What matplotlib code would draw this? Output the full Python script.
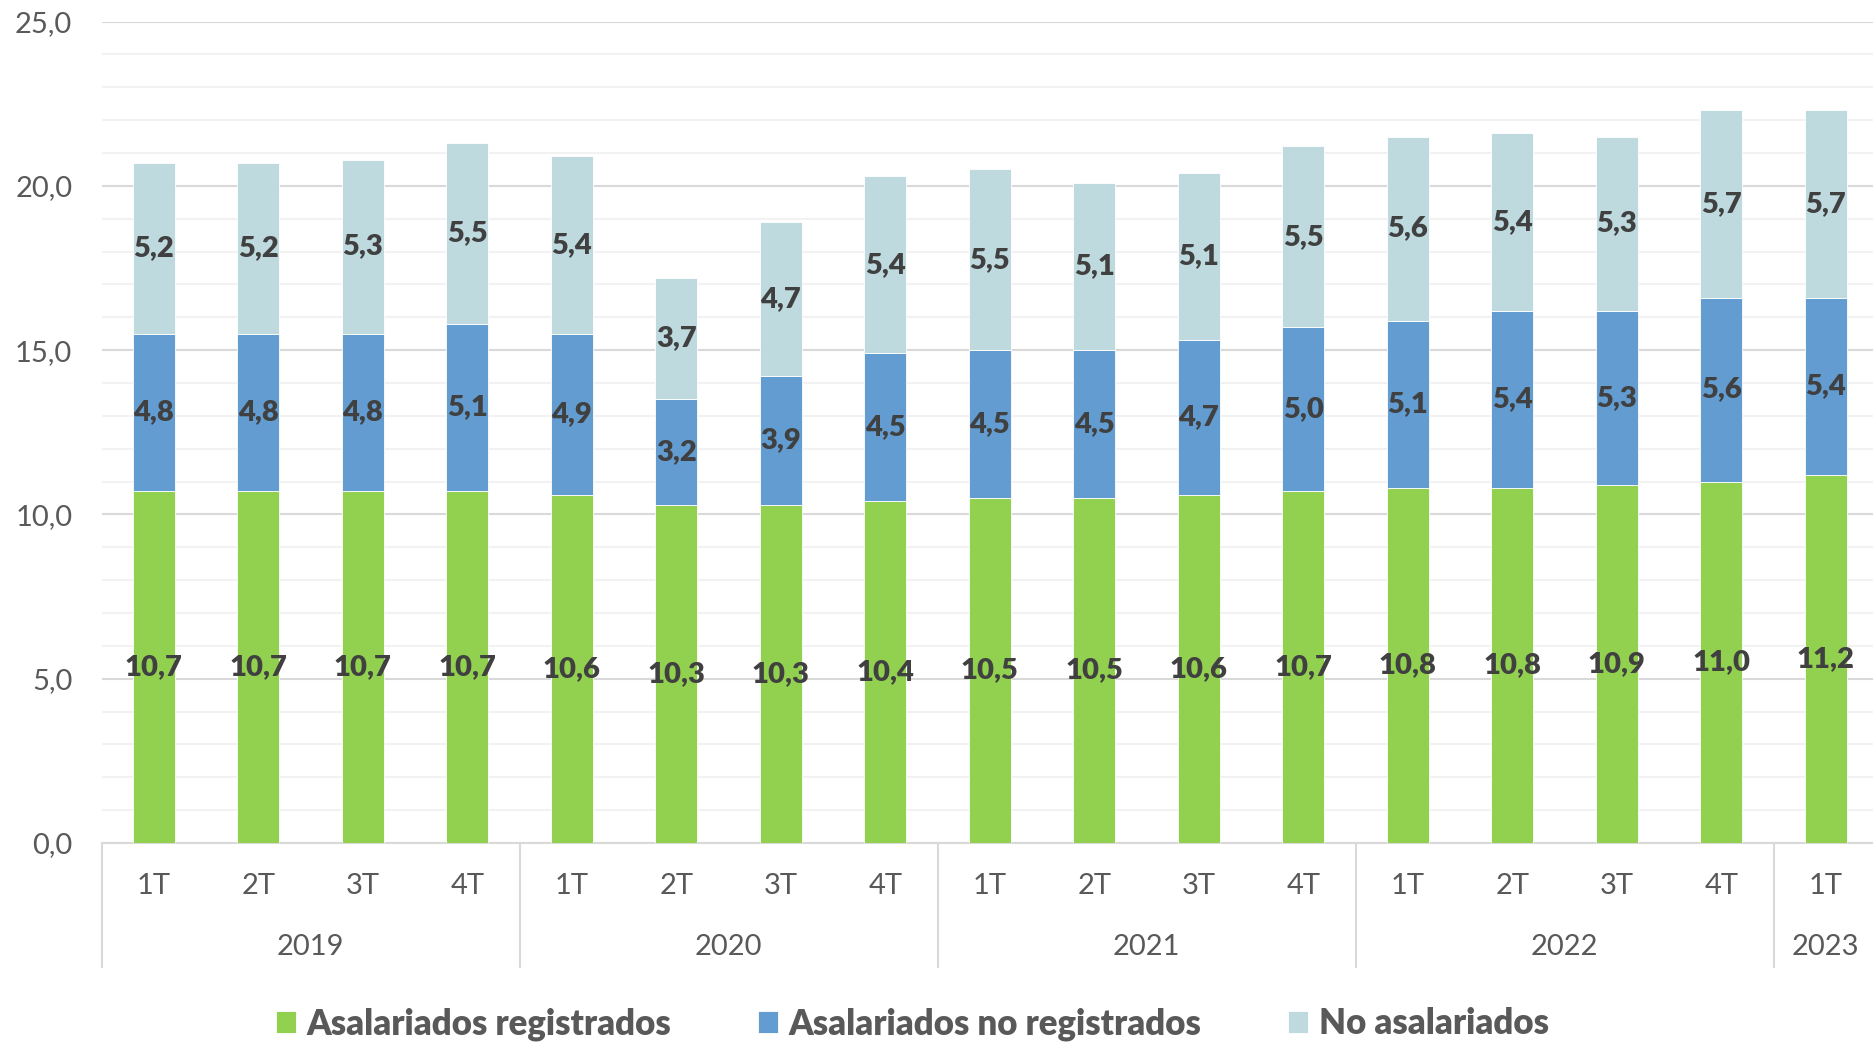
import matplotlib.pyplot as plt
import matplotlib.transforms as mtransforms
from matplotlib.ticker import FuncFormatter, MultipleLocator
import numpy as np

quarters = ["1T", "2T", "3T", "4T"] * 4 + ["1T"]
years = ["2019", "2020", "2021", "2022", "2023"]
year_sizes = [4, 4, 4, 4, 1]

registrados = [10.7, 10.7, 10.7, 10.7, 10.6, 10.3, 10.3, 10.4, 10.5, 10.5, 10.6, 10.7, 10.8, 10.8, 10.9, 11.0, 11.2]
no_registrados = [4.8, 4.8, 4.8, 5.1, 4.9, 3.2, 3.9, 4.5, 4.5, 4.5, 4.7, 5.0, 5.1, 5.4, 5.3, 5.6, 5.4]
no_asalariados = [5.2, 5.2, 5.3, 5.5, 5.4, 3.7, 4.7, 5.4, 5.5, 5.1, 5.1, 5.5, 5.6, 5.4, 5.3, 5.7, 5.7]

series = [
    ("Asalariados registrados", registrados, "#92D050"),
    ("Asalariados no registrados", no_registrados, "#629CD1"),
    ("No asalariados", no_asalariados, "#BEDADF"),
]

plt.rcParams['font.family'] = ['Lato', 'DejaVu Sans']
text_gray = "#595959"
label_dark = "#404040"

fig = plt.figure(figsize=(18.73, 10.45), dpi=100)
ax = fig.add_axes([101.5 / 1873, 1 - 843 / 1045, 1776.5 / 1873, (843 - 21.5) / 1045])

x = np.arange(len(quarters))
bottom = np.zeros(len(quarters))
for name, vals, color in series:
    vals = np.array(vals)
    ax.bar(x, vals, width=0.4, bottom=bottom, color=color, label=name,
           edgecolor="white", linewidth=0.6, zorder=3)
    for xi, b, v in zip(x, bottom, vals):
        ax.text(xi, b + v / 2, f"{v:.1f}".replace(".", ","), ha="center", va="center",
                fontsize=21, fontweight="heavy", color=label_dark, zorder=4)
    bottom += vals

ax.set_xlim(-0.5, len(quarters) - 0.5)
ax.set_ylim(0, 25)
ax.yaxis.set_major_locator(MultipleLocator(5))
ax.yaxis.set_minor_locator(MultipleLocator(1))
ax.yaxis.set_major_formatter(FuncFormatter(lambda v, p: f"{v:.1f}".replace(".", ",")))
ax.grid(axis="y", which="major", color="#D9D9D9", linewidth=1.5, zorder=0)
ax.grid(axis="y", which="minor", color="#F2F2F2", linewidth=1.5, zorder=0)
ax.tick_params(axis="y", which="both", length=0, pad=21, labelsize=21, labelcolor=text_gray)
ax.set_xticks([])
for side in ["left", "right", "top"]:
    ax.spines[side].set_visible(False)
ax.spines["bottom"].set_color("#D9D9D9")
ax.spines["bottom"].set_linewidth(1.5)

# multi-level category axis
trans = mtransforms.blended_transform_factory(ax.transData, ax.transAxes)
ax_h = 843 - 21.5
for xi, q in zip(x, quarters):
    ax.text(xi, -43 / ax_h, q, transform=trans, ha="center", va="center",
            fontsize=21, color=text_gray)
start = 0
for yr, n in zip(years, year_sizes):
    ax.text(start + (n - 1) / 2, -104 / ax_h, yr, transform=trans, ha="center", va="center",
            fontsize=21, color=text_gray)
    ax.plot([start - 0.5, start - 0.5], [0, -124 / ax_h], transform=trans,
            color="#D9D9D9", linewidth=1.5, clip_on=False)
    start += n

fig.legend(loc="center", bbox_to_anchor=(0.487, 1 - 1024 / 1045), ncol=3, frameon=False,
           prop={"size": 25, "weight": "heavy"}, labelcolor=text_gray,
           handlelength=0.58, handleheight=0.58, handletextpad=0.3, columnspacing=2.5)

fig.savefig("out.png", dpi=100)
